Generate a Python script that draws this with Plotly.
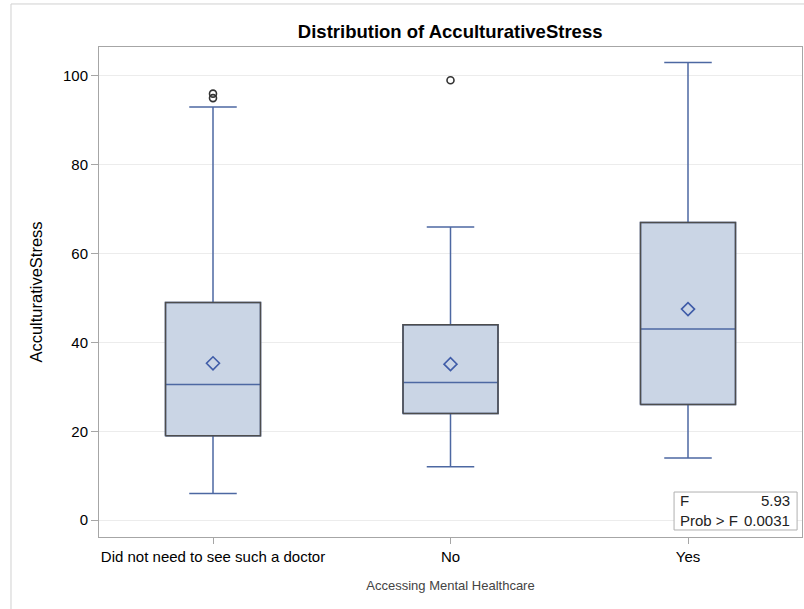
import plotly.graph_objects as go

# Summary statistics of AcculturativeStress by access to mental healthcare
categories = ["Did not need to see such a doctor", "No", "Yes"]
q1 = [19.0, 24.0, 26.0]
median = [30.5, 31.0, 43.0]
q3 = [49.0, 44.0, 67.0]
lower_whisker = [6.0, 12.0, 14.0]
upper_whisker = [93.0, 66.0, 103.0]
means = [35.3, 35.1, 47.5]
outlier_groups = [0, 0, 1]
outlier_values = [95.0, 96.0, 99.0]
y_ticks = [0, 20, 40, 60, 80, 100]
f_value = "5.93"
p_value = "0.0031"

FILL = "#cad5e5"
WHISKER = "#4d68a2"
OUTLINE = "#4d4d4d"
FRAME = "#a6a6a6"
FONT = "Liberation Sans, Arial, sans-serif"
BOX_W = 0.4

positions = list(range(len(categories)))

fig = go.Figure()

for i in positions:
    fig.add_trace(go.Box(
        x=[i], q1=[q1[i]], median=[median[i]], q3=[q3[i]],
        lowerfence=[lower_whisker[i]], upperfence=[upper_whisker[i]],
        width=BOX_W, whiskerwidth=0.5,
        fillcolor=FILL, line=dict(color=WHISKER, width=1.5),
        boxpoints=False, hoverinfo="skip", showlegend=False,
    ))
    # darker outline around the interquartile box
    h = BOX_W / 2
    fig.add_trace(go.Scatter(
        x=[i - h, i + h, i + h, i - h, i - h],
        y=[q1[i], q1[i], q3[i], q3[i], q1[i]],
        mode="lines", line=dict(color=OUTLINE, width=1.5),
        hoverinfo="skip", showlegend=False,
    ))

# group means
fig.add_trace(go.Scatter(
    x=positions, y=means, mode="markers",
    marker=dict(symbol="diamond-open", size=10, color="#3f5ca8",
                line=dict(width=1.6, color="#3f5ca8")),
    hoverinfo="skip", showlegend=False,
))

# outliers
fig.add_trace(go.Scatter(
    x=outlier_groups, y=outlier_values, mode="markers",
    marker=dict(symbol="circle-open", size=7, color="#333333",
                line=dict(width=1.6, color="#333333")),
    hoverinfo="skip", showlegend=False,
))

# F test inset
fig.add_shape(type="rect", xref="paper", yref="paper",
              x0=0.818, x1=0.993, y0=0.0143, y1=0.0918,
              line=dict(color="#b0b0b0", width=1), fillcolor="white", layer="above")
for label, value, yy in [("F", f_value, 0.0745), ("Prob > F", p_value, 0.0345)]:
    fig.add_annotation(xref="paper", yref="paper", x=0.8236, y=yy,
                       text=label, showarrow=False, xanchor="left", yanchor="middle",
                       font=dict(family=FONT, size=15, color="#222222"))
    fig.add_annotation(xref="paper", yref="paper", x=0.9858, y=yy,
                       text=value, showarrow=False, xanchor="right", yanchor="middle",
                       font=dict(family=FONT, size=15, color="#222222"))

# light border around the whole graph
fig.add_shape(type="line", xref="paper", yref="paper",
              x0=-0.1252, x1=-0.1252, y0=-0.16, y1=1.0878,
              line=dict(color="#d0d0d0", width=1))
fig.add_shape(type="line", xref="paper", yref="paper",
              x0=-0.1252, x1=1.01, y0=1.0878, y1=1.0878,
              line=dict(color="#d0d0d0", width=1))

fig.update_layout(
    width=804, height=609,
    margin=dict(l=99, r=2, t=47, b=72),
    paper_bgcolor="white", plot_bgcolor="white",
    title=dict(text="<b>Distribution of AcculturativeStress</b>",
               x=0.5599, xanchor="center", y=0.949, yanchor="middle",
               font=dict(family=FONT, size=18.5, color="black")),
    font=dict(family=FONT, size=15, color="black"),
)

fig.update_xaxes(
    range=[-0.48, 2.48], tickmode="array", tickvals=positions, ticktext=categories,
    showline=True, linecolor=FRAME, linewidth=1, mirror=True,
    ticks="outside", ticklen=6, tickcolor=FRAME, showgrid=False, zeroline=False,
    tickfont=dict(family=FONT, size=15, color="black"),
    title=dict(text="Accessing Mental Healthcare", standoff=16,
               font=dict(family=FONT, size=13, color="#444444")),
)
fig.update_yaxes(
    range=[-3.8, 106.5], tickmode="array", tickvals=y_ticks,
    showline=True, linecolor=FRAME, linewidth=1, mirror=True,
    ticks="outside", ticklen=7, tickcolor=FRAME,
    showgrid=True, gridcolor="#ececec", gridwidth=1, zeroline=False,
    tickfont=dict(family=FONT, size=15, color="black"),
    title=dict(text="AcculturativeStress", standoff=16,
               font=dict(family=FONT, size=16.5, color="black")),
)

fig.write_html("out.html")
